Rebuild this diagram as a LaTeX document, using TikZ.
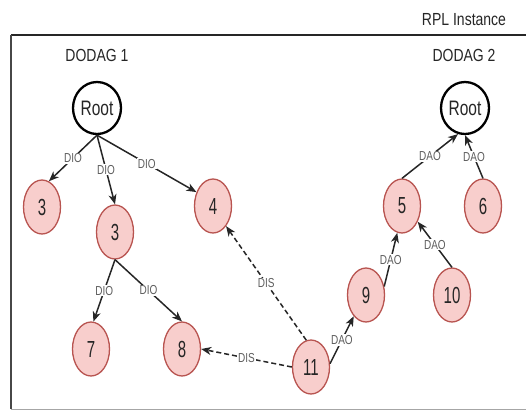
\documentclass[tikz,border=0pt]{standalone}
\usepackage{graphicx}
\usepackage{fontspec}
\setmainfont{Liberation Sans}
\usetikzlibrary{shapes.geometric,arrows.meta}

\definecolor{nodefill}{HTML}{F8CECC}
\definecolor{nodeline}{HTML}{B85450}
\definecolor{ink}{HTML}{262626}
\definecolor{labelgray}{HTML}{5E5E5E}

% tall, slightly narrow lettering
\newcommand{\titletext}[1]{\scalebox{1}[1.25]{\fontsize{14}{14}\selectfont #1}}
\newcommand{\roottext}[1]{\scalebox{1}[1.35]{\fontsize{15.5}{15.5}\selectfont #1}}
\newcommand{\numtext}[1]{\scalebox{1}[1.55]{\fontsize{15}{15}\selectfont #1}}
\newcommand{\edgetext}[1]{\scalebox{1}[1.3]{\fontsize{10}{10}\selectfont #1}}

\tikzset{
  x=1pt, y=-1pt,
  rootnode/.style={ellipse, draw=black, line width=2.3pt, fill=white,
    minimum width=48pt, minimum height=52pt, inner sep=0pt, text=ink},
  member/.style={ellipse, draw=nodeline, line width=1.3pt, fill=nodefill,
    minimum width=37pt, minimum height=54pt, inner sep=0pt, text=ink},
  title/.style={text=ink, inner sep=0pt},
  link/.style={draw=ink, line width=1.5pt,
    -{Stealth[length=10pt,width=8pt,inset=3pt]}},
  probe/.style={link, dash pattern=on 5pt off 3pt},
  tag/.style={midway, fill=white, inner sep=1pt, text=labelgray}
}

\begin{document}
\begin{tikzpicture}
\useasboundingbox (0,0) rectangle (526,410);

% instance frame, open on the right
\draw[ink, line width=2.6pt] (526,35) -- (11,35);
\draw[ink!85, line width=2pt] (11,35) -- (11,409);
\draw[black!35, line width=1pt] (11,409) -- (526,409);

\node[title] (inst) at (464,20) {\titletext{RPL Instance}};
\node[title] (dg1) at (97,55) {\titletext{DODAG 1}};
\node[title] (dg2) at (464,55) {\titletext{DODAG 2}};

% roots
\node[rootnode] (r1) at (97,108) {\roottext{Root}};
\node[rootnode] (r2) at (465,108) {\roottext{Root}};

% DODAG 1 members
\node[member] (a3) at (42,207) {\numtext{3}};
\node[member] (b3) at (115,232) {\numtext{3}};
\node[member] (n4) at (213,206) {\numtext{4}};
\node[member] (n7) at (91,349) {\numtext{7}};
\node[member] (n8) at (182,349) {\numtext{8}};

% DODAG 2 members
\node[member] (n5) at (402,206) {\numtext{5}};
\node[member] (n6) at (483,206) {\numtext{6}};
\node[member] (n9) at (366,295) {\numtext{9}};
\node[member] (n10) at (452,295) {\numtext{10}};

% joining node
\node[member] (n11) at (311,367) {\numtext{11}};

% DIO downward
\draw[link] (r1.south) -- (a3.75) node[tag] {\edgetext{DIO}};
\draw[link] (r1.south) -- (b3.north) node[tag] {\edgetext{DIO}};
\draw[link] (r1.south) -- (n4.140) node[tag] {\edgetext{DIO}};
\draw[link] (b3.south) -- (n7.85) node[tag] {\edgetext{DIO}};
\draw[link] (b3.south) -- (n8.north) node[tag] {\edgetext{DIO}};

% DIS solicitations
\draw[probe] (n11.west) -- (n8.east) node[tag] {\edgetext{DIS}};
\draw[probe] (n11.100) -- (n4.-57) node[tag] {\edgetext{DIS}};

% DAO upward
\draw[link] (n11.10) -- (n9.-120) node[tag] {\edgetext{DAO}};
\draw[link] (n9.25) -- (n5.-100) node[tag] {\edgetext{DAO}};
\draw[link] (n10.north) -- (n5.-45) node[tag] {\edgetext{DAO}};
\draw[link] (n5.north) -- (r2.-105) node[tag] {\edgetext{DAO}};
\draw[link] (n6.north) -- (r2.south) node[tag] {\edgetext{DAO}};
\end{tikzpicture}
\end{document}
